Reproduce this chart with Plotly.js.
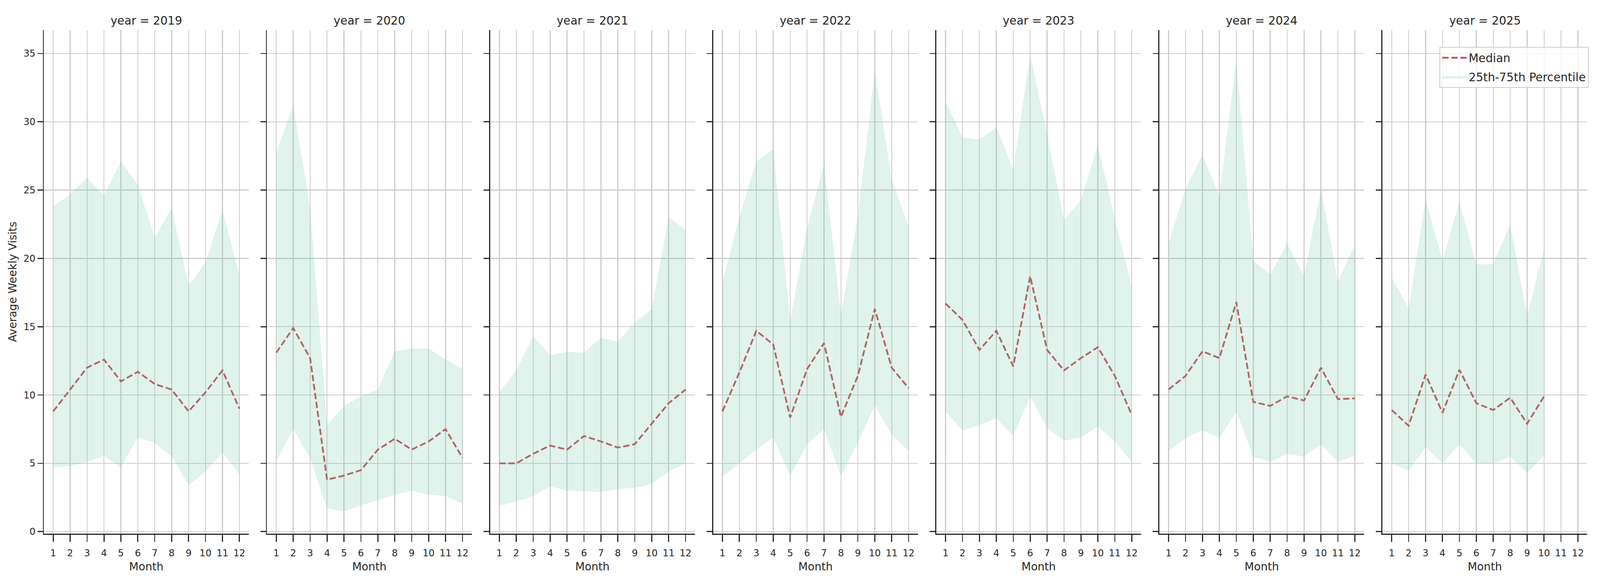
<!DOCTYPE html>
<html>
<head>
<meta charset="utf-8">
<title>Average Weekly Visits by Month</title>
<script src="https://cdn.plot.ly/plotly-3.0.1.min.js"></script>
<style>
    html, body { margin: 0; padding: 0; background: #ffffff; overflow: hidden; }
    #grafico { position: absolute; left: 0; top: 0; }
</style>
</head>
<body>
<div id="grafico"></div>
<script>
/* ============================================================================
 * Data
 * ========================================================================== */

const years = [2019, 2020, 2021, 2022, 2023, 2024, 2025];
const months = [1, 2, 3, 4, 5, 6, 7, 8, 9, 10, 11, 12];

const median2019 = [8.8, 10.4, 12.0, 12.6, 11.0, 11.7, 10.8, 10.4, 8.8, 10.2, 11.8, 9.0];
const p25_2019 = [4.7, 4.8, 5.1, 5.55, 4.7, 6.9, 6.5, 5.5, 3.4, 4.4, 5.8, 4.2];
const p75_2019 = [23.8, 24.7, 25.9, 24.6, 27.1, 25.4, 21.5, 23.7, 18.0, 19.7, 23.5, 18.8];

const median2020 = [13.1, 14.9, 12.7, 3.8, 4.1, 4.5, 6.0, 6.8, 6.0, 6.6, 7.5, 5.4];
const p25_2020 = [5.2, 7.5, 5.4, 1.7, 1.5, 1.9, 2.3, 2.7, 3.0, 2.7, 2.6, 2.05];
const p75_2020 = [27.75, 31.2, 23.7, 7.8, 9.2, 9.9, 10.4, 13.2, 13.4, 13.4, 12.6, 11.9];

const median2021 = [5.0, 5.0, 5.7, 6.3, 6.0, 7.0, 6.6, 6.15, 6.4, 7.9, 9.4, 10.4];
const p25_2021 = [1.9, 2.2, 2.6, 3.3, 3.0, 2.95, 2.9, 3.1, 3.2, 3.5, 4.4, 5.0];
const p75_2021 = [10.2, 11.8, 14.3, 12.9, 13.15, 13.1, 14.2, 13.9, 15.3, 16.3, 23.0, 22.1];

const median2022 = [8.8, 11.65, 14.7, 13.7, 8.35, 11.9, 13.8, 8.4, 11.4, 16.3, 12.0, 10.5];
const p25_2022 = [4.05, 5.0, 6.0, 6.9, 4.1, 6.4, 7.5, 4.05, 6.5, 9.25, 7.1, 5.9];
const p75_2022 = [18.2, 23.05, 27.1, 28.0, 15.4, 22.2, 26.9, 15.9, 23.05, 33.7, 25.8, 22.3];

const median2023 = [16.7, 15.5, 13.3, 14.7, 12.1, 18.7, 13.3, 11.8, 12.7, 13.5, 11.4, 8.55];
const p25_2023 = [8.8, 7.4, 7.8, 8.3, 7.0, 9.9, 7.6, 6.65, 6.9, 7.7, 6.6, 5.1];
const p75_2023 = [31.5, 28.85, 28.7, 29.6, 26.5, 34.9, 29.1, 22.8, 24.3, 28.3, 22.9, 18.0];

const median2024 = [10.4, 11.4, 13.2, 12.7, 16.8, 9.5, 9.2, 9.9, 9.6, 12.0, 9.7, 9.75];
const p25_2024 = [5.9, 6.85, 7.4, 6.85, 8.8, 5.5, 5.1, 5.7, 5.5, 6.4, 5.1, 5.6];
const p75_2024 = [21.1, 25.1, 27.6, 24.55, 34.5, 19.85, 18.8, 21.1, 18.7, 25.1, 18.3, 21.0];

// 2025 only runs to October
const median2025 = [8.9, 7.75, 11.5, 8.7, 11.85, 9.4, 8.9, 9.8, 7.9, 9.9];
const p25_2025 = [5.0, 4.45, 6.2, 5.0, 6.4, 5.0, 5.0, 5.5, 4.3, 5.6];
const p75_2025 = [18.6, 16.35, 24.3, 19.85, 24.15, 19.55, 19.6, 22.5, 15.8, 20.7];

const medians = [median2019, median2020, median2021, median2022, median2023, median2024, median2025];
const lowers = [p25_2019, p25_2020, p25_2021, p25_2022, p25_2023, p25_2024, p25_2025];
const uppers = [p75_2019, p75_2020, p75_2021, p75_2022, p75_2023, p75_2024, p75_2025];


/* ============================================================================
 * Styling (reference geometry in px of a 5250x1500 figure)
 * ========================================================================== */

const REF_W = 5250;
const REF_H = 1500;

const PANEL_LEFT = 144;
const PANEL_WIDTH = 672;
const PANEL_STEP = 732;
const AXES_TOP = 76.5;
const AXES_BOTTOM = 1366;

const INK = "#262626";
const GRID = "#cccccc";
const RED = "#c44e52";
const BAND = "rgba(102,194,165,0.2)";
const FONT = "DejaVu Sans";


/* ============================================================================
 * Build traces and axes
 * ========================================================================== */

function axisName(prefix, i) {
    return i === 0 ? prefix : prefix + (i + 1);
}

function buildFigure(W, H) {

    // the window may be narrower than the reference: positions are kept as
    // fractions, px sizes are scaled so nothing spills out of view
    const sx = W / REF_W;
    const sy = H / REF_H;
    const f = (sx + sy) / 2;
    const px = v => v * f;

    const traces = [];
    const annotations = [];
    const layout = {
        width: W,
        height: H,
        margin: { l: 0, r: 0, t: 0, b: 0 },
        paper_bgcolor: "#ffffff",
        plot_bgcolor: "#ffffff",
        font: { family: FONT, color: INK, size: px(27) },
        showlegend: true,
        legend: {
            x: 5213 / REF_W,
            y: 1 - 120 / REF_H,
            xanchor: "right",
            yanchor: "top",
            traceorder: "grouped",
            itemwidth: Math.max(30, 80 * sx),
            bgcolor: "rgba(255,255,255,0.8)",
            bordercolor: GRID,
            borderwidth: px(2.5),
            font: { family: FONT, size: px(33), color: INK },
            tracegroupgap: 8 * sy
        }
    };

    const yDomain = [1 - AXES_BOTTOM / REF_H, 1 - AXES_TOP / REF_H];

    years.forEach((year, i) => {

        const xName = axisName("x", i);
        const yName = axisName("y", i);
        const xs = months.slice(0, medians[i].length);
        const isLast = i === years.length - 1;

        traces.push({
            type: "scatter",
            mode: "lines",
            x: xs,
            y: medians[i],
            xaxis: xName,
            yaxis: yName,
            line: { color: RED, width: px(5), dash: px(18) + "px," + px(8) + "px" },
            name: "Median",
            legendgroup: "median",
            showlegend: isLast
        });

        // lower edge of the band (invisible)
        traces.push({
            type: "scatter",
            mode: "lines",
            x: xs,
            y: lowers[i],
            xaxis: xName,
            yaxis: yName,
            line: { width: 0, color: BAND },
            hoverinfo: "skip",
            legendgroup: "band",
            showlegend: false
        });

        // upper edge, filled down to lower edge
        traces.push({
            type: "scatter",
            mode: "lines",
            x: xs,
            y: uppers[i],
            xaxis: xName,
            yaxis: yName,
            fill: "tonexty",
            fillcolor: BAND,
            line: { width: 0, color: BAND },
            name: "25th-75th Percentile",
            legendgroup: "band",
            showlegend: isLast
        });

        const left = (PANEL_LEFT + PANEL_STEP * i) / REF_W;
        const right = (PANEL_LEFT + PANEL_STEP * i + PANEL_WIDTH) / REF_W;

        layout[axisName("xaxis", i)] = {
            domain: [left, right],
            anchor: yName,
            range: [0.45, 12.55],
            tickmode: "array",
            tickvals: months,
            ticktext: months.map(String),
            ticks: "outside",
            ticklen: 18 * sy,
            tickwidth: px(3),
            tickcolor: INK,
            ticklabelstandoff: 8 * sy,
            tickfont: { family: FONT, size: px(27), color: INK },
            showline: true,
            linecolor: INK,
            linewidth: px(3),
            showgrid: true,
            gridcolor: GRID,
            gridwidth: px(2.7),
            zeroline: false,
            title: {
                text: "Month",
                font: { family: FONT, size: px(31.5), color: INK },
                standoff: 12 * sy
            }
        };

        layout[axisName("yaxis", i)] = {
            domain: yDomain,
            anchor: xName,
            range: [-0.15, 36.73],
            dtick: 5,
            tick0: 0,
            ticks: "outside",
            ticklen: 18 * sx,
            tickwidth: px(3),
            tickcolor: INK,
            ticklabelstandoff: 8 * sx,
            showticklabels: i === 0,
            tickfont: { family: FONT, size: px(27), color: INK },
            showline: true,
            linecolor: INK,
            linewidth: px(3),
            showgrid: true,
            gridcolor: GRID,
            gridwidth: px(2.7),
            zeroline: false
        };

        if (i > 0) {
            layout[axisName("yaxis", i)].matches = "y";
        } else {
            layout.yaxis.title = {
                text: "Average Weekly Visits",
                font: { family: FONT, size: px(31.5), color: INK },
                standoff: 12 * sx
            };
        }

        annotations.push({
            xref: xName + " domain",
            yref: "paper",
            x: 0.5,
            y: 1 - 53 / REF_H,
            xanchor: "center",
            yanchor: "middle",
            showarrow: false,
            text: "year = " + year,
            font: { family: FONT, size: px(33), color: INK }
        });
    });

    layout.annotations = annotations;

    return { traces, layout };
}


/* ============================================================================
 * Init
 * ========================================================================== */

document.addEventListener("DOMContentLoaded", () => {

    const W = Math.min(window.innerWidth || REF_W, REF_W);
    const H = Math.min(window.innerHeight || REF_H, REF_H);

    const div = document.getElementById("grafico");
    div.style.width = W + "px";
    div.style.height = H + "px";

    const fig = buildFigure(W, H);

    Plotly.newPlot(div, fig.traces, fig.layout, { displayModeBar: false, staticPlot: true });

});
</script>
</body>
</html>
